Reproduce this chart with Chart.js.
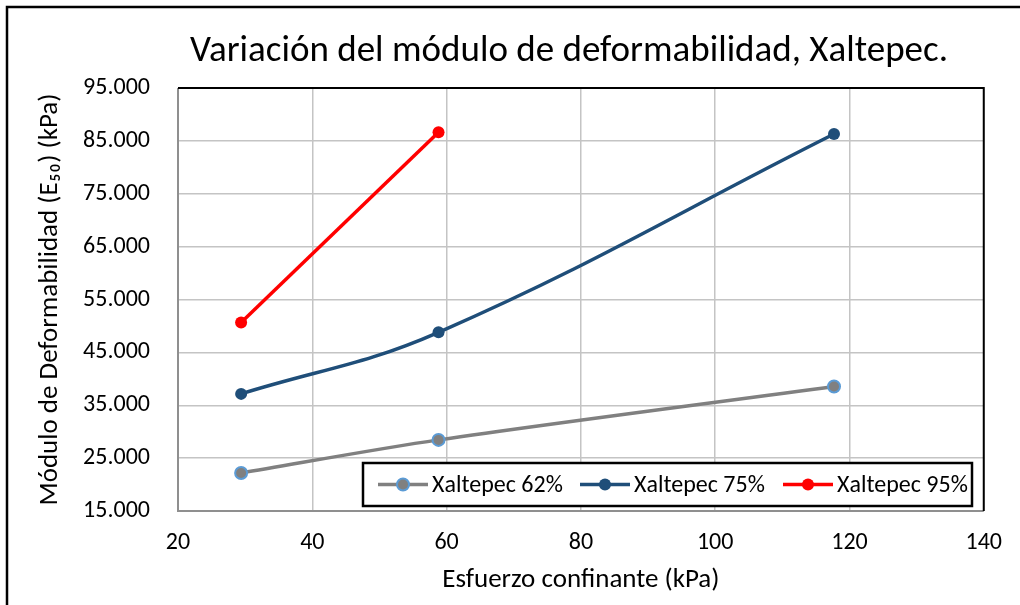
<!DOCTYPE html>
<html lang="es">
<head>
<meta charset="UTF-8" />
<title>Variación del módulo de deformabilidad, Xaltepec</title>
<script src="https://cdn.jsdelivr.net/npm/chart.js@4.4.0/dist/chart.umd.min.js"></script>
<style>
  html, body { margin: 0; padding: 0; background: #fff; }
  #wrap { position: relative; width: 1020px; height: 605px; }
</style>
</head>
<body>
<div id="wrap"><canvas id="chart" width="1020" height="605"></canvas></div>
<script>
// ---- data ----
const confinante = [29.4, 58.8, 117.7];          // kPa
const xal62 = [22200, 28450, 38550];              // E50 (kPa)
const xal75 = [37150, 48800, 86300];
const xal95 = [50650, 86650];
const seriesNames = ['Xaltepec 62%', 'Xaltepec 75%', 'Xaltepec 95%'];
const xTicks = [20, 40, 60, 80, 100, 120, 140];
const yTicks = [15000, 25000, 35000, 45000, 55000, 65000, 75000, 85000, 95000];

const FONT = 'Carlito, Calibri, Lato, sans-serif';
const TITLE = 'Variación del módulo de deformabilidad, Xaltepec.';

function pts(ys) {
  return ys.map((y, i) => ({ x: confinante[i], y: y }));
}

// 95000 -> "95.000"
function miles(v) {
  return String(Math.round(v)).replace(/\B(?=(\d{3})+(?!\d))/g, '.');
}

// outer frame, title and plot-area border
const decorPlugin = {
  id: 'decor',
  beforeDraw(chart) {
    const ctx = chart.ctx;
    ctx.save();
    ctx.strokeStyle = '#000';
    ctx.lineWidth = 2.5;
    ctx.strokeRect(7, 7, 1040, 640);
    ctx.fillStyle = '#000';
    ctx.font = '37px ' + FONT;
    ctx.textAlign = 'center';
    ctx.textBaseline = 'middle';
    ctx.fillText(TITLE, 569, 52);
    ctx.restore();
  },
  afterDraw(chart) {
    const { ctx, chartArea: a } = chart;
    ctx.save();
    ctx.lineWidth = 2;
    ctx.strokeStyle = '#8f8f8f';
    ctx.beginPath();
    ctx.moveTo(a.left, a.top);
    ctx.lineTo(a.left, a.bottom);
    ctx.lineTo(a.right, a.bottom);
    ctx.stroke();
    ctx.strokeStyle = '#000';
    ctx.beginPath();
    ctx.moveTo(a.left, a.top);
    ctx.lineTo(a.right, a.top);
    ctx.lineTo(a.right, a.bottom);
    ctx.stroke();
    ctx.restore();
  }
};

// boxed legend inside the plot, bottom right
const boxLegendPlugin = {
  id: 'boxLegend',
  afterDatasetsDraw(chart) {
    const ctx = chart.ctx;
    const box = { x: 363, y: 463, w: 609, h: 43 };
    const starts = [378, 580, 783];
    const cy = box.y + box.h / 2;
    ctx.save();
    ctx.fillStyle = '#fff';
    ctx.fillRect(box.x, box.y, box.w, box.h);
    ctx.strokeStyle = '#000';
    ctx.lineWidth = 2.5;
    ctx.strokeRect(box.x, box.y, box.w, box.h);
    chart.data.datasets.forEach((ds, i) => {
      const x0 = starts[i];
      ctx.strokeStyle = ds.borderColor;
      ctx.lineWidth = ds.borderWidth;
      ctx.beginPath();
      ctx.moveTo(x0, cy);
      ctx.lineTo(x0 + 50, cy);
      ctx.stroke();
      ctx.beginPath();
      ctx.arc(x0 + 25, cy, ds.pointRadius, 0, Math.PI * 2);
      ctx.fillStyle = ds.pointBackgroundColor;
      ctx.fill();
      if (ds.pointBorderWidth) {
        ctx.lineWidth = ds.pointBorderWidth;
        ctx.strokeStyle = ds.pointBorderColor;
        ctx.stroke();
      }
      ctx.fillStyle = '#000';
      ctx.font = '24px ' + FONT;
      ctx.textAlign = 'left';
      ctx.textBaseline = 'middle';
      ctx.fillText(ds.label, x0 + 54, cy + 1);
    });
    ctx.restore();
  }
};

new Chart(document.getElementById('chart'), {
  type: 'scatter',
  data: {
    datasets: [
      {
        label: seriesNames[0],
        data: pts(xal62),
        showLine: true,
        tension: 0.3,
        borderColor: '#808080',
        borderWidth: 3.5,
        pointRadius: 6,
        pointBackgroundColor: '#808080',
        pointBorderColor: '#5B9BD5',
        pointBorderWidth: 2
      },
      {
        label: seriesNames[1],
        data: pts(xal75),
        showLine: true,
        tension: 0.4,
        borderColor: '#1F4E79',
        borderWidth: 3.5,
        pointRadius: 6,
        pointBackgroundColor: '#1F4E79',
        pointBorderColor: '#1F4E79',
        pointBorderWidth: 0
      },
      {
        label: seriesNames[2],
        data: pts(xal95),
        showLine: true,
        tension: 0,
        borderColor: '#FF0000',
        borderWidth: 3.5,
        pointRadius: 6,
        pointBackgroundColor: '#FF0000',
        pointBorderColor: '#FF0000',
        pointBorderWidth: 0
      }
    ]
  },
  options: {
    responsive: false,
    animation: false,
    layout: { padding: { left: 0, top: 88, right: 32, bottom: 0 } },
    plugins: {
      legend: { display: false },
      tooltip: { enabled: false }
    },
    scales: {
      x: {
        type: 'linear',
        min: 20,
        max: 140,
        afterBuildTicks: (s) => { s.ticks = xTicks.map(v => ({ value: v })); },
        afterFit: (s) => { s.height = 94; },
        border: { display: false },
        grid: { color: '#c4c4c4', lineWidth: 1.5, drawTicks: false },
        ticks: { color: '#000', font: { family: FONT, size: 24 }, padding: 18 },
        title: {
          display: true,
          text: 'Esfuerzo confinante (kPa)',
          color: '#000',
          font: { family: FONT, size: 27 },
          padding: { top: 0, bottom: 9 }
        }
      },
      y: {
        type: 'linear',
        min: 15000,
        max: 95000,
        afterBuildTicks: (s) => { s.ticks = yTicks.map(v => ({ value: v })); },
        afterFit: (s) => { s.width = 178; },
        border: { display: false },
        grid: { color: '#c4c4c4', lineWidth: 1.5, drawTicks: false },
        ticks: {
          color: '#000',
          font: { family: FONT, size: 24 },
          padding: 28,
          callback: (v) => miles(v)
        },
        title: {
          display: true,
          text: 'Módulo de Deformabilidad (E₅₀) (kPa)',
          color: '#000',
          font: { family: FONT, size: 27 },
          padding: { top: 34, bottom: 0 }
        }
      }
    }
  },
  plugins: [decorPlugin, boxLegendPlugin]
});
</script>
</body>
</html>
